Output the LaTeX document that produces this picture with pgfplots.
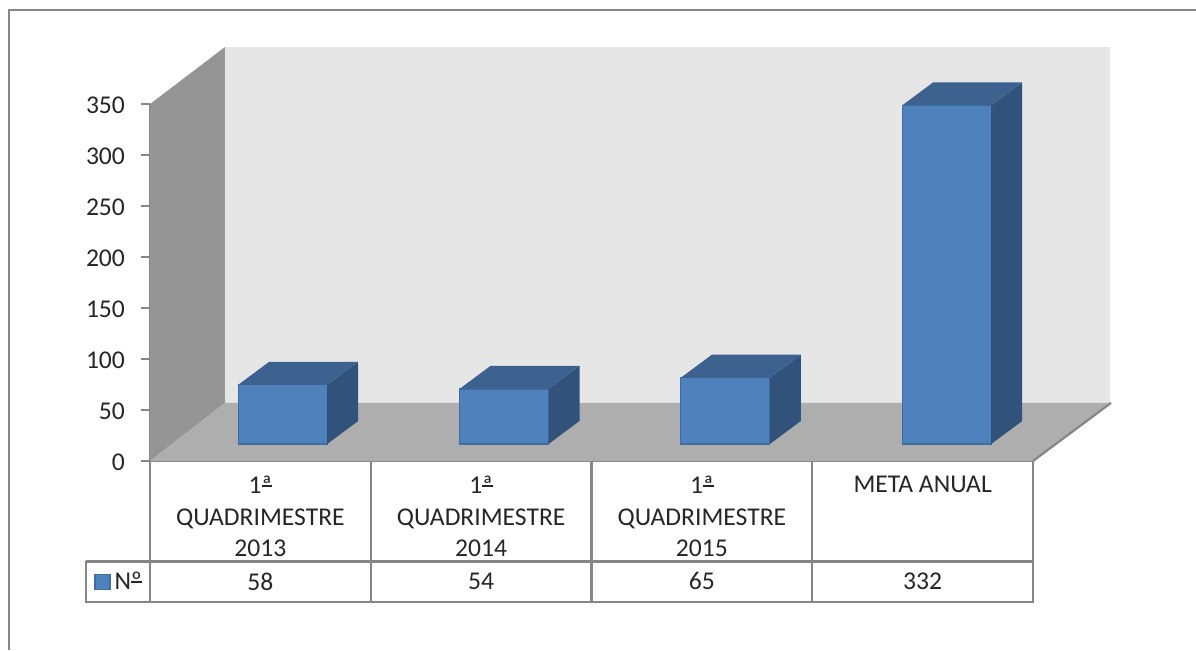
\documentclass[border=0pt]{standalone}
\usepackage{fontspec}
\setmainfont{Carlito}
\usepackage{pgfplots}
\pgfplotsset{compat=1.18}
\definecolor{linegray}{HTML}{868686}
\definecolor{sidewall}{HTML}{959595}
\definecolor{backwall}{HTML}{E6E6E6}
\definecolor{floorgray}{HTML}{AEAEAE}
\definecolor{barfront}{HTML}{4F81BD}
\definecolor{barline}{HTML}{3F6DA3}
\definecolor{bartop}{HTML}{3D6290}
\definecolor{barside}{HTML}{31537B}
\definecolor{txt}{HTML}{262626}
\newcommand{\chartfont}{\fontsize{12.8}{15.75}\selectfont\color{txt}}
% ordinal sign with the bar under it, as Calibri draws it
\newsavebox{\ordbox}
\newcommand{\ordbar}[1]{\sbox{\ordbox}{#1}\rlap{\rule[0.27em]{\wd\ordbox}{0.05em}}\usebox{\ordbox}}
\begin{document}
\begin{tikzpicture}
\path[use as bounding box] (0,0) rectangle (598pt,325pt);
\draw[linegray,line width=1.25pt] (4.5pt,0pt)--(4.5pt,320pt)--(598pt,320pt);

% walls, floor, y axis and the data table
\begin{axis}[
  at={(75pt,94.5pt)},anchor=south west,
  scale only axis,width=441.5pt,height=178.5pt,
  xmin=-0.5,xmax=3.5,ymin=0,ymax=350,
  clip=false,
  axis lines=left,
  axis line style={draw=linegray,line width=1.1pt,-},
  tick style={draw=linegray,line width=1pt},
  tick align=outside,
  major tick length=4.5pt,
  ytick={0,50,...,350},
  xtick={0,1,2,3},
  xtick style={draw=none},
  xticklabels={{1\ordbar{ª}\\QUADRIMESTRE\\2013},{1\ordbar{ª}\\QUADRIMESTRE\\2014},{1\ordbar{ª}\\QUADRIMESTRE\\2015},{META ANUAL}},
  xticklabel style={align=center,anchor=north,font=\chartfont,yshift=0.5pt},
  yticklabel style={font=\chartfont,xshift=-4.5pt,yshift=-0.8pt},
  /pgf/number format/assume math mode=true,
  no markers,
]
\addplot[fill=sidewall,draw=none] coordinates {(-0.5,0) (-0.5,350) (-0.16,405.9) (-0.16,56.9)} --cycle;
\addplot[fill=backwall,draw=none] coordinates {(-0.16,56.9) (-0.16,405.9) (3.849,405.9) (3.849,56.9)} --cycle;
\addplot[fill=floorgray,draw=none] coordinates {(-0.5,0) (-0.16,56.9) (3.853,56.9) (3.5,0)} --cycle;
\addplot[linegray,line width=1.1pt] coordinates {(3.5,0) (3.853,56.9)};
% table grid
\addplot[linegray,line width=1.1pt] coordinates {(-0.5,0) (-0.5,-138.2) (3.5,-138.2) (3.5,0)};
\addplot[linegray,line width=1.1pt] coordinates {(-0.79,-98.5) (3.5,-98.5)};
\addplot[linegray,line width=1.1pt] coordinates {(-0.79,-98.5) (-0.79,-138.2) (-0.5,-138.2)};
\addplot[linegray,line width=1.1pt] coordinates {(0.5,0) (0.5,-138.2)};
\addplot[linegray,line width=1.1pt] coordinates {(1.5,0) (1.5,-138.2)};
\addplot[linegray,line width=1.1pt] coordinates {(2.5,0) (2.5,-138.2)};
\node[font=\chartfont] at (axis cs:0,-118) {58};
\node[font=\chartfont] at (axis cs:1,-118) {54};
\node[font=\chartfont] at (axis cs:2,-118) {65};
\node[font=\chartfont] at (axis cs:3,-118) {332};
\end{axis}

% bars, standing 8.5pt above the front edge of the floor
\begin{axis}[
  at={(86pt,103pt)},anchor=south west,
  scale only axis,width=442.7pt,height=178.5pt,
  xmin=-0.5,xmax=3.5,ymin=0,ymax=350,
  clip=false,
  hide axis,
  no markers,
  legend style={at={(axis cs:-0.853,-135.5)},anchor=west,draw=none,fill=none,inner sep=0pt,
    font=\chartfont,/tikz/every even column/.append style={column sep=2pt}},
  legend image code/.code={\draw[fill=barfront,draw=barline,line width=0.7pt] (0pt,-3.75pt) rectangle (7.5pt,3.75pt);},
]
\addplot[ybar,bar width=44.5pt,bar shift=0pt,fill=barfront,draw=barline,line width=0.6pt]
  coordinates {(0,58) (1,54) (2,65) (3,332)};
\addlegendentry{N\ordbar{º}}
% side and top faces
\addplot[forget plot,fill=barside,draw=none] coordinates {(0.2011,0) (0.2011,58) (0.341,80.55) (0.341,22.55)} --cycle;
\addplot[forget plot,fill=bartop,draw=none] coordinates {(-0.2011,58) (0.2011,58) (0.341,80.55) (-0.0612,80.55)} --cycle;
\addplot[forget plot,fill=barside,draw=none] coordinates {(1.2011,0) (1.2011,54) (1.341,76.55) (1.341,22.55)} --cycle;
\addplot[forget plot,fill=bartop,draw=none] coordinates {(0.7989,54) (1.2011,54) (1.341,76.55) (0.9388,76.55)} --cycle;
\addplot[forget plot,fill=barside,draw=none] coordinates {(2.2011,0) (2.2011,65) (2.341,87.55) (2.341,22.55)} --cycle;
\addplot[forget plot,fill=bartop,draw=none] coordinates {(1.7989,65) (2.2011,65) (2.341,87.55) (1.9388,87.55)} --cycle;
\addplot[forget plot,fill=barside,draw=none] coordinates {(3.2011,0) (3.2011,332) (3.341,354.55) (3.341,22.55)} --cycle;
\addplot[forget plot,fill=bartop,draw=none] coordinates {(2.7989,332) (3.2011,332) (3.341,354.55) (2.9388,354.55)} --cycle;
\end{axis}
\end{tikzpicture}
\end{document}
